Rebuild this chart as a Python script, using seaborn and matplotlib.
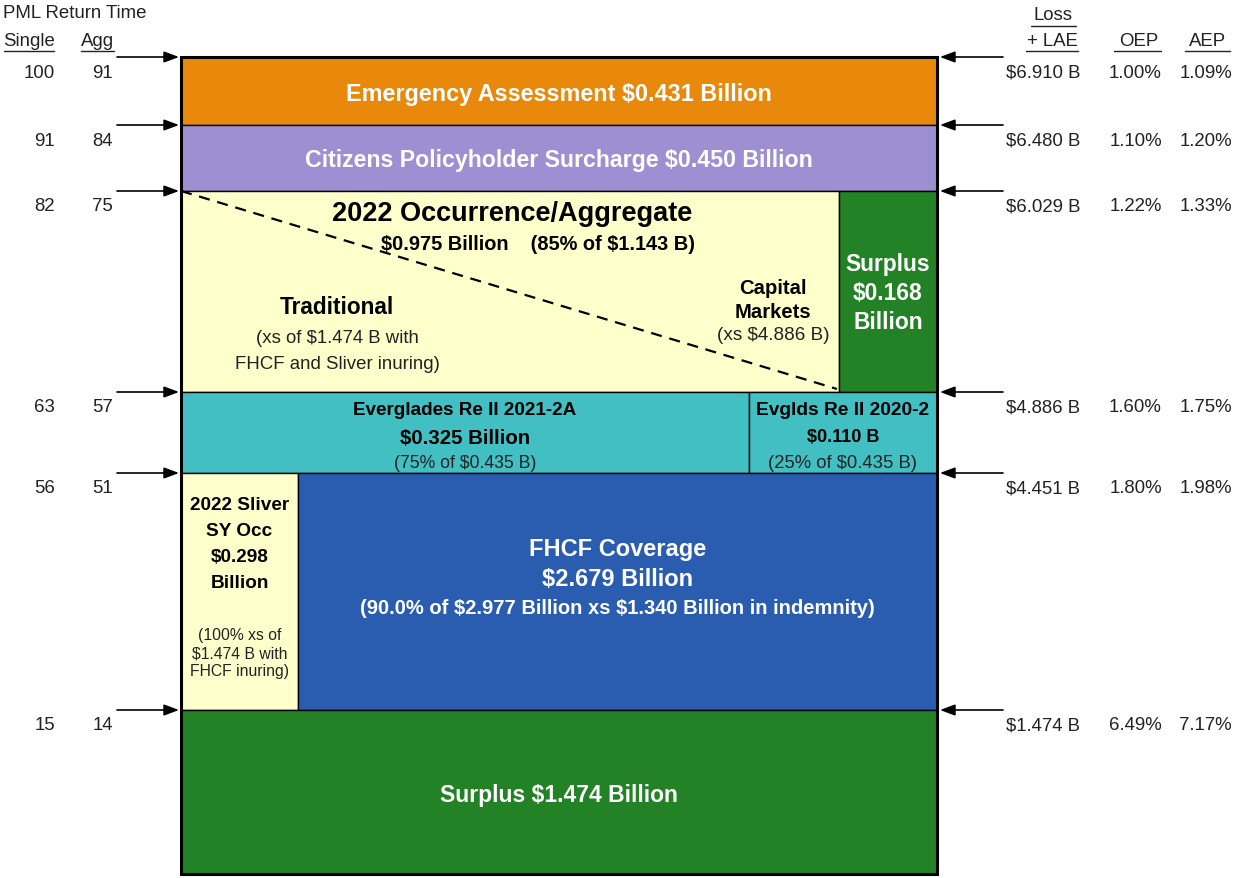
import matplotlib
matplotlib.use("Agg")
import matplotlib.pyplot as plt
import seaborn as sns

sns.set_theme(style="white")
plt.rcParams['font.family'] = ['Liberation Sans', 'DejaVu Sans']
plt.rcParams['text.parse_math'] = False

# ---------------- data ----------------
single_rp = [100, 91, 82, 63, 56, 15]
agg_rp = [91, 84, 75, 57, 51, 14]
loss_lae = ["$6.910 B", "$6.480 B", "$6.029 B", "$4.886 B", "$4.451 B", "$1.474 B"]
oep = ["1.00%", "1.10%", "1.22%", "1.60%", "1.80%", "6.49%"]
aep = ["1.09%", "1.20%", "1.33%", "1.75%", "1.98%", "7.17%"]

emergency_amt = 0.431
surcharge_amt = 0.450
occ_agg_amt = 0.975
occ_agg_limit = 1.143
occ_agg_share = 85
surplus_top_amt = 0.168
evg_2021_amt = 0.325
evg_2020_amt = 0.110
evg_total = 0.435
evg_2021_share = 75
evg_2020_share = 25
sliver_amt = 0.298
fhcf_amt = 2.679
fhcf_share = 90.0
fhcf_limit = 2.977
fhcf_retention = 1.340
surplus_bottom_amt = 1.474
cat_mkt_attach = 4.886

# ---------------- layout (pixel geometry of the tower) ----------------
W, H = 1240, 879
X0, X1 = 181, 937
row_edges = [58, 126, 192, 393, 474, 711, 875]   # visual boundaries (top->bottom)
x_surplus_split = 839
x_evg_split = 749
x_sliver_split = 298
dy = 2  # vertical text nudge

ORANGE = "#E8890C"
PURPLE = "#9D8FD1"
YELLOW = "#FFFFCC"
GREEN = "#228225"
TEAL = "#41BFC3"
BLUE = "#2A5DB0"

fig = plt.figure(figsize=(W / 100, H / 100), dpi=100)
ax = fig.add_axes([0, 0, 1, 1])
ax.set_xlim(0, W)
ax.set_ylim(H, 0)
ax.axis("off")


def block(x0, x1, y0, y1, color, lw=1.0):
    ax.bar(x0, y1 - y0, width=x1 - x0, bottom=y0, align="edge",
           color=color, edgecolor="black", linewidth=lw, zorder=2)


r = row_edges
block(X0, X1, r[0], r[1], ORANGE)
block(X0, X1, r[1], r[2], PURPLE)
block(X0, x_surplus_split, r[2], r[3], YELLOW)
block(x_surplus_split, X1, r[2], r[3], GREEN)
block(X0, x_evg_split, r[3], r[4], TEAL)
block(x_evg_split, X1, r[3], r[4], TEAL)
block(X0, x_sliver_split, r[4], r[5], YELLOW)
block(x_sliver_split, X1, r[4], r[5], BLUE)
block(X0, X1, r[5], r[6], GREEN)
# outer border
ax.bar(X0, r[6] - r[0], width=X1 - X0, bottom=r[0], align="edge",
       facecolor="none", edgecolor="black", linewidth=2.2, zorder=4)

# dashed diagonal (traditional vs capital markets)
ax.plot([X0, x_surplus_split - 2], [r[2], r[3] - 3], color="black",
        linestyle=(0, (5, 3.5)), linewidth=1.6, zorder=3)

# ---------------- texts in tower ----------------
B = dict(fontweight="bold", ha="center", va="center", zorder=5)
N = dict(ha="center", va="center", zorder=5)
xc = (X0 + X1) / 2

ax.text(xc, 92 + dy, f"Emergency Assessment ${emergency_amt:.3f} Billion", color="white", fontsize=16.8, **B)
ax.text(xc, 159 + dy, f"Citizens Policyholder Surcharge ${surcharge_amt:.3f} Billion", color="white", fontsize=16.7, **B)

ax.text(512, 212 + dy, "2022 Occurrence/Aggregate", color="black", fontsize=19.5, **B)
ax.text(538, 243 + dy, f"${occ_agg_amt:.3f} Billion    ({occ_agg_share}% of ${occ_agg_limit:.3f} B)",
        color="black", fontsize=14.4, **B)
ax.text(337, 306 + dy, "Traditional", color="black", fontsize=16.3, **B)
ax.text(337, 337 + dy, f"(xs of ${surplus_bottom_amt:.3f} B with", color="#222222", fontsize=13.4, **N)
ax.text(337, 363 + dy, "FHCF and Sliver inuring)", color="#222222", fontsize=13.4, **N)
ax.text(773, 287 + dy, "Capital", color="black", fontsize=14.6, **B)
ax.text(773, 311 + dy, "Markets", color="black", fontsize=14.6, **B)
ax.text(773, 334 + dy, f"(xs ${cat_mkt_attach:.3f} B)", color="#222222", fontsize=13.6, **N)

sx = (x_surplus_split + X1) / 2
ax.text(sx, 263 + dy, "Surplus", color="white", fontsize=16.4, **B)
ax.text(sx, 292 + dy, f"${surplus_top_amt:.3f}", color="white", fontsize=16.4, **B)
ax.text(sx, 321 + dy, "Billion", color="white", fontsize=16.4, **B)

ex = (X0 + x_evg_split) / 2
ax.text(ex, 409 + dy, "Everglades Re II 2021-2A", color="black", fontsize=13.6, **B)
ax.text(ex, 437 + dy, f"${evg_2021_amt:.3f} Billion", color="black", fontsize=14.7, **B)
ax.text(ex, 462 + dy, f"({evg_2021_share}% of ${evg_total:.3f} B)", color="#222222", fontsize=12.7, **N)
ex2 = (x_evg_split + X1) / 2
ax.text(ex2, 409 + dy, "Evglds Re II 2020-2", color="black", fontsize=13.8, **B)
ax.text(ex2, 436 + dy, f"${evg_2020_amt:.3f} B", color="black", fontsize=13, **B)
ax.text(ex2, 462 + dy, f"({evg_2020_share}% of ${evg_total:.3f} B)", color="#222222", fontsize=13.3, **N)

slx = (X0 + x_sliver_split) / 2
for yy, t in zip([504, 530, 556, 582], ["2022 Sliver", "SY Occ", f"${sliver_amt:.3f}", "Billion"]):
    ax.text(slx, yy + dy, t, color="black", fontsize=13.7, **B)
for yy, t in zip([634, 652, 670], ["(100% xs of", f"${surplus_bottom_amt:.3f} B with", "FHCF inuring)"]):
    ax.text(slx, yy + dy, t, color="#222222", fontsize=11.3, **N)

fx = (x_sliver_split + X1) / 2
ax.text(fx, 548 + dy, "FHCF Coverage", color="white", fontsize=17, **B)
ax.text(fx, 578 + dy, f"${fhcf_amt:.3f} Billion", color="white", fontsize=17, **B)
ax.text(fx, 607 + dy, f"({fhcf_share:.1f}% of ${fhcf_limit:.3f} Billion xs ${fhcf_retention:.3f} Billion in indemnity)",
        color="white", fontsize=14.5, **B)

ax.text(xc, 794 + dy, f"Surplus ${surplus_bottom_amt:.3f} Billion", color="white", fontsize=16.5, **B)

# ---------------- side annotations ----------------
arrow_kw = dict(arrowstyle="-|>,head_length=0.75,head_width=0.28", color="black", lw=1.2,
                shrinkA=0, shrinkB=0)
label_dy = 15
SIDE = 13.4
for i, yb in enumerate(r[:-1]):
    ax.annotate("", xy=(X0 - 2, yb), xytext=(117, yb), arrowprops=arrow_kw, zorder=6)
    ax.annotate("", xy=(X1 + 3, yb), xytext=(1003, yb), arrowprops=arrow_kw, zorder=6)
    ax.text(55, yb + label_dy, str(single_rp[i]), ha="right", va="center", fontsize=SIDE, color="#222222")
    ax.text(113, yb + label_dy, str(agg_rp[i]), ha="right", va="center", fontsize=SIDE, color="#222222")
    ax.text(1006, yb + label_dy, loss_lae[i], ha="left", va="center", fontsize=SIDE, color="#222222")
    ax.text(1162, yb + label_dy, oep[i], ha="right", va="center", fontsize=SIDE, color="#222222")
    ax.text(1232, yb + label_dy, aep[i], ha="right", va="center", fontsize=SIDE, color="#222222")

# headers
hdr = dict(fontsize=SIDE, color="#222222", va="center")
ax.text(3, 13, "PML Return Time", ha="left", **hdr)
ax.text(3, 42, "Single", ha="left", **hdr)
ax.plot([4, 54], [52, 52], color="#222222", lw=1)
ax.text(114, 42, "Agg", ha="right", **hdr)
ax.plot([81, 114], [52, 52], color="#222222", lw=1)
ax.text(1053, 16, "Loss", ha="center", **hdr)
ax.plot([1031, 1076], [27, 27], color="#222222", lw=1)
ax.text(1078, 42, "+ LAE", ha="right", **hdr)
ax.plot([1026, 1078], [52, 52], color="#222222", lw=1)
ax.text(1139, 42, "OEP", ha="center", **hdr)
ax.plot([1114, 1161], [52, 52], color="#222222", lw=1)
ax.text(1208, 42, "AEP", ha="center", **hdr)
ax.plot([1185, 1230], [52, 52], color="#222222", lw=1)

fig.savefig("out.png", dpi=100, facecolor="white")
